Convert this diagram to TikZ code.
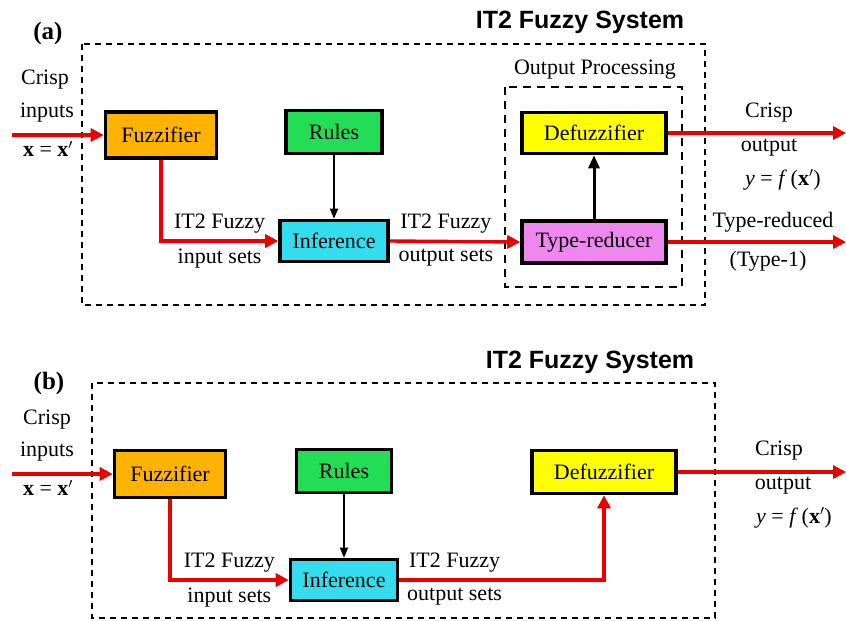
\documentclass[tikz,border=0pt]{standalone}
\usepackage{fontspec}
\setmainfont{Liberation Serif}
\newfontfamily\titlefont{Liberation Sans}
\usetikzlibrary{arrows.meta}

\definecolor{fuzzorange}{RGB}{255,178,0}
\definecolor{rulesgreen}{RGB}{34,221,85}
\definecolor{infcyan}{RGB}{51,221,238}
\definecolor{defyellow}{RGB}{255,255,0}
\definecolor{trpink}{RGB}{238,136,238}
\definecolor{sigred}{RGB}{235,0,0}

\begin{document}
\begin{tikzpicture}[x=1pt,y=-1pt,
    box/.style={rectangle, draw, line width=3.6pt, inner sep=0pt,
                font=\fontsize{22}{24}\selectfont},
    lbl/.style={inner sep=0pt, font=\fontsize{22}{24}\selectfont},
    sig/.style={draw=sigred, line width=3.4pt, -{Triangle[length=13pt,width=13pt]}},
    ctl/.style={draw, line width=1.8pt, -{Triangle[length=10pt,width=8pt]}},
    frame/.style={draw, line width=2pt, dash pattern=on 6pt off 5pt},
    title/.style={font=\titlefont\bfseries\fontsize{25}{28}\selectfont},
    tag/.style={font=\bfseries\fontsize{25}{28}\selectfont}
  ]
    \useasboundingbox (0,0) rectangle (846,621);

    %%% (a) with type-reducer
    \node[tag] (taga) at (48,33) {(a)};
    \node[title] (titlea) at (580,22) {IT2 Fuzzy System};
    \draw[frame] (82,44) rectangle (705,305);
    \draw[frame, line width=2.6pt, dash pattern=on 8pt off 6pt] (505,87) rectangle (682,287);
    \node[lbl] (proca) at (595,70) {Output Processing};

    \node[box, fill=fuzzorange, minimum width=111pt, minimum height=46pt] (fuzza) at (161,135) {Fuzzifier};
    \node[box, fill=rulesgreen, minimum width=96pt, minimum height=43pt] (rulesa) at (334,132) {Rules};
    \node[box, fill=infcyan, minimum width=108pt, minimum height=41pt] (infa) at (334,241) {Inference};
    \node[box, fill=defyellow, minimum width=144pt, minimum height=41pt] (defa) at (594,133) {Defuzzifier};
    \node[box, fill=trpink, minimum width=144pt, minimum height=42pt] (tra) at (594,242) {Type-reducer};

    \coordinate (ina) at (12,135);
    \coordinate (outa) at (846,133);
    \coordinate (outra) at (846,242);

    \node[lbl] (crispa) at (45,80) {Crisp};
    \node[lbl] (inputsa) at (47,113) {inputs};
    \node[lbl] (xa) at (48,149) {\textbf{x} = \textbf{x}$'$};

    \node[lbl] (crispoa) at (769,113) {Crisp};
    \node[lbl] (outputa) at (769,148) {output};
    \node[lbl] (ya) at (783,180) {\textit{y} = \textit{f}\,(\textbf{x}$'$)};
    \node[lbl] (reduced) at (773,222) {Type-reduced};
    \node[lbl] (typeone) at (768,261) {(Type-1)};

    \path
    (ina) edge[sig] (fuzza.west)
    (fuzza.south) edge[sig, to path={|- (\tikztotarget) \tikztonodes}]
        node[lbl, pos=0.75, above=6pt] {IT2 Fuzzy}
        node[lbl, pos=0.75, below=6pt] {input sets} (infa.west)
    (infa.east) edge[sig]
        node[lbl, pos=0.43, above=6pt] {IT2 Fuzzy}
        node[lbl, pos=0.43, below=6pt] {output sets} (tra.west)
    (rulesa.south) edge[ctl] (infa.north)
    (tra.north) edge[ctl, line width=3pt, -{Triangle[length=13pt,width=11pt]}] (defa.south)
    (defa.east) edge[sig] (outa)
    (tra.east) edge[sig] (outra);

    %%% (b) without type-reducer
    \node[tag] (tagb) at (49,383) {(b)};
    \node[title] (titleb) at (590,362) {IT2 Fuzzy System};
    \draw[frame] (92,383) rectangle (715,618);

    \node[box, fill=fuzzorange, minimum width=111pt, minimum height=47pt] (fuzzb) at (170,474) {Fuzzifier};
    \node[box, fill=rulesgreen, minimum width=95pt, minimum height=43pt] (rulesb) at (344,471) {Rules};
    \node[box, fill=infcyan, minimum width=107pt, minimum height=41pt] (infb) at (344,580) {Inference};
    \node[box, fill=defyellow, minimum width=144pt, minimum height=43pt] (defb) at (604,472) {Defuzzifier};

    \coordinate (inb) at (12,474);
    \coordinate (outb) at (846,472);

    \node[lbl] (crispb) at (47,420) {Crisp};
    \node[lbl] (inputsb) at (47,452) {inputs};
    \node[lbl] (xb) at (48,488) {\textbf{x} = \textbf{x}$'$};

    \node[lbl] (crispob) at (779,451) {Crisp};
    \node[lbl] (outputb) at (783,486) {output};
    \node[lbl] (yb) at (794,518) {\textit{y} = \textit{f}\,(\textbf{x}$'$)};

    \path
    (inb) edge[sig] (fuzzb.west)
    (fuzzb.south) edge[sig, to path={|- (\tikztotarget) \tikztonodes}]
        node[lbl, pos=0.75, above=6pt] {IT2 Fuzzy}
        node[lbl, pos=0.75, below=6pt] {input sets} (infb.west)
    (infb.east) edge[sig, to path={-| (\tikztotarget) \tikztonodes}]
        node[lbl, pos=0.135, above=6pt] {IT2 Fuzzy}
        node[lbl, pos=0.135, below=6pt] {output sets} (defb.south)
    (rulesb.south) edge[ctl] (infb.north)
    (defb.east) edge[sig] (outb);

\end{tikzpicture}
\end{document}
